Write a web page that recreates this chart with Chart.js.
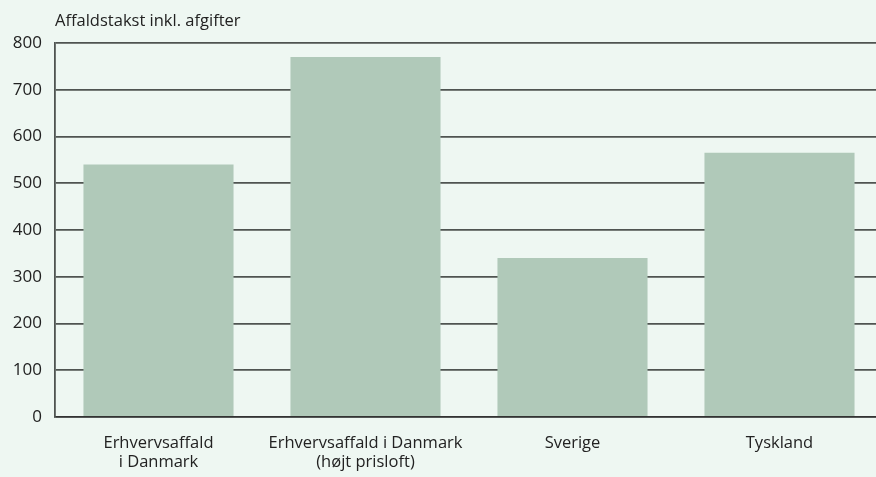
<!DOCTYPE html>
<html>
<head>
<meta charset="utf-8">
<script src="https://cdn.jsdelivr.net/npm/chart.js@4/dist/chart.umd.min.js"></script>
<style>
  html, body { margin: 0; padding: 0; background: #eef7f2; overflow: hidden; }
  #wrap { width: 884px; height: 477px; }
</style>
</head>
<body>
<div id="wrap"><canvas id="chart"></canvas></div>
<script>
const categories = [
    ['Erhvervsaffald', 'i Danmark'],
    ['Erhvervsaffald i Danmark', '(højt prisloft)'],
    'Sverige',
    'Tyskland'
];
const values = [540, 770, 340, 565];
const yTicks = [0, 100, 200, 300, 400, 500, 600, 700, 800];
const yTitle = 'Affaldstakst inkl. afgifter';

const fontFamily = '"Open Sans", "Noto Sans", sans-serif';

// title sits above the plot, left-aligned with the y axis line
const topTitle = {
    id: 'topTitle',
    afterDraw(chart) {
        const ctx = chart.ctx;
        ctx.save();
        ctx.font = '16.5px ' + fontFamily;
        ctx.fillStyle = '#222';
        ctx.textBaseline = 'middle';
        ctx.textAlign = 'left';
        ctx.fillText(yTitle, chart.chartArea.left, 21);
        ctx.restore();
    }
};

new Chart(document.getElementById('chart').getContext('2d'), {
    type: 'bar',
    data: {
        labels: categories,
        datasets: [{
            data: values,
            backgroundColor: '#b0c9b9',
            barPercentage: 0.725,
            categoryPercentage: 1
        }]
    },
    options: {
        responsive: true,
        maintainAspectRatio: false,
        animation: false,
        layout: { padding: { top: 43, right: 1, left: 0, bottom: 0 } },
        plugins: {
            legend: { display: false },
            tooltip: { enabled: false }
        },
        scales: {
            x: {
                grid: { display: false, drawTicks: false },
                border: { display: true, color: '#333', width: 1.5 },
                ticks: {
                    color: '#222',
                    font: { family: fontFamily, size: 16.5, lineHeight: 1.2 },
                    padding: 16,
                    maxRotation: 0
                },
                afterFit(scale) { scale.height = 60; }
            },
            y: {
                min: 0,
                max: 800,
                afterBuildTicks(scale) {
                    scale.ticks = yTicks.map(v => ({ value: v }));
                },
                grid: { color: '#4f5451', lineWidth: 1.8, drawTicks: false },
                border: { display: true, color: '#4f5451', width: 1.8 },
                ticks: {
                    color: '#222',
                    font: { family: fontFamily, size: 17 },
                    padding: 13
                },
                afterFit(scale) { scale.width = 55; }
            }
        }
    },
    plugins: [topTitle]
});
</script>
</body>
</html>
